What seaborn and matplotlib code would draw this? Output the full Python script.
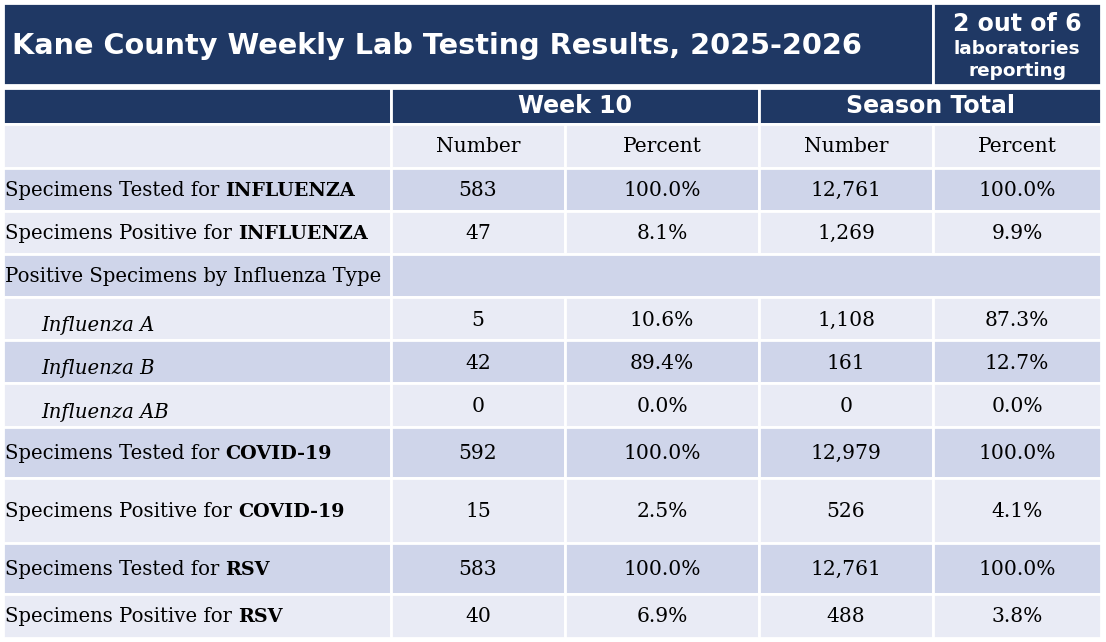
import matplotlib
matplotlib.use("Agg")
import matplotlib.pyplot as plt
import seaborn as sns

# ---------------- data ----------------
title = "Kane County Weekly Lab Testing Results, 2025-2026"
labs_line1 = "2 out of 6"
labs_line2 = "laboratories"
labs_line3 = "reporting"
group_headers = ["Week 10", "Season Total"]
sub_headers = ["Number", "Percent", "Number", "Percent"]

row_labels = ["Specimens Tested for ", "Specimens Positive for ",
              "Positive Specimens by Influenza Type",
              "Influenza A", "Influenza B", "Influenza AB",
              "Specimens Tested for ", "Specimens Positive for ",
              "Specimens Tested for ", "Specimens Positive for "]
row_bold = ["INFLUENZA", "INFLUENZA", "", "", "", "",
            "COVID-19", "COVID-19", "RSV", "RSV"]
row_italic = [False, False, False, True, True, True, False, False, False, False]
week_number = [583, 47, None, 5, 42, 0, 592, 15, 583, 40]
week_percent = [100.0, 8.1, None, 10.6, 89.4, 0.0, 100.0, 2.5, 100.0, 6.9]
season_number = [12761, 1269, None, 1108, 161, 0, 12979, 526, 12761, 488]
season_percent = [100.0, 9.9, None, 87.3, 12.7, 0.0, 100.0, 4.1, 100.0, 3.8]

# ---------------- style / layout ----------------
NAVY = "#1F3864"
LIGHT = "#E9EBF5"
DARK = "#CFD5EA"
SERIF = "DejaVu Serif"
SANS = "DejaVu Sans"
LABEL_FS = 14.1
BOLD_FS = 13.8
NUM_FS = 14.6

sns.set_theme(style="white")
plt.rcParams["font.family"] = [SANS]

W, H = 1106, 642
col_edges = [3, 391, 565, 759, 933, 1101]
body_edges = [168, 211, 254, 297, 340, 383, 427, 478, 543, 594, 638]

fig = plt.figure(figsize=(W / 100, H / 100), dpi=100)
ax = fig.add_axes([0, 0, 1, 1])
ax.set_xlim(0, W)
ax.set_ylim(H, 0)
ax.axis("off")


def cell(x0, x1, y0, y1, color):
    ax.barh((y0 + y1) / 2, x1 - x0, height=y1 - y0, left=x0, color=color,
            edgecolor="white", linewidth=2)


# title band
cell(3, 933, 3, 85, NAVY)
cell(933, 1101, 3, 85, NAVY)
ax.text(12, 46, title, color="white", fontsize=20.7, fontweight="bold",
        ha="left", va="center", family=SANS)
ax.text(1017, 24, labs_line1, color="white", fontsize=17, fontweight="bold",
        ha="center", va="center", family=SANS)
ax.text(1017, 49, labs_line2, color="white", fontsize=13.3, fontweight="bold",
        ha="center", va="center", family=SANS)
ax.text(1017, 71, labs_line3, color="white", fontsize=13.3, fontweight="bold",
        ha="center", va="center", family=SANS)

# group header row
cell(3, 391, 88, 124, NAVY)
cell(391, 759, 88, 124, NAVY)
cell(759, 1101, 88, 124, NAVY)
ax.text((391 + 759) / 2, 106, group_headers[0], color="white", fontsize=17,
        fontweight="bold", ha="center", va="center", family=SANS)
ax.text((759 + 1101) / 2, 106, group_headers[1], color="white", fontsize=17,
        fontweight="bold", ha="center", va="center", family=SANS)

# sub header row
for i in range(5):
    cell(col_edges[i], col_edges[i + 1], 124, 168, LIGHT)
for i, s in enumerate(sub_headers):
    ax.text((col_edges[i + 1] + col_edges[i + 2]) / 2, 147, s, color="black",
            fontsize=NUM_FS, ha="center", va="center", family=SERIF)

# body
for r in range(len(row_labels)):
    y0, y1 = body_edges[r], body_edges[r + 1]
    color = DARK if r % 2 == 0 else LIGHT
    yc = (y0 + y1) / 2
    if week_number[r] is None:
        cell(col_edges[0], col_edges[1], y0, y1, color)
        cell(col_edges[1], col_edges[5], y0, y1, color)
    else:
        for i in range(5):
            cell(col_edges[i], col_edges[i + 1], y0, y1, color)
    if row_italic[r]:
        ax.text(41, yc + 7, row_labels[r], fontsize=LABEL_FS, style="italic",
                ha="left", va="center", family=SERIF, color="black")
    else:
        t = ax.text(5, yc + 1, row_labels[r], fontsize=LABEL_FS, ha="left",
                    va="center", family=SERIF, color="black")
        if row_bold[r]:
            ax.annotate(row_bold[r], xy=(1, 0), xycoords=t, va="bottom",
                        ha="left", fontsize=BOLD_FS, fontweight="bold",
                        family=SERIF, color="black")
    if week_number[r] is not None:
        vals = [f"{week_number[r]:,}", f"{week_percent[r]:.1f}%",
                f"{season_number[r]:,}", f"{season_percent[r]:.1f}%"]
        yoff = 2 if row_italic[r] else 1
        for i, v in enumerate(vals):
            ax.text((col_edges[i + 1] + col_edges[i + 2]) / 2, yc + yoff, v,
                    fontsize=NUM_FS, ha="center", va="center", family=SERIF,
                    color="black")

fig.savefig("out.png", dpi=100, facecolor="white")
